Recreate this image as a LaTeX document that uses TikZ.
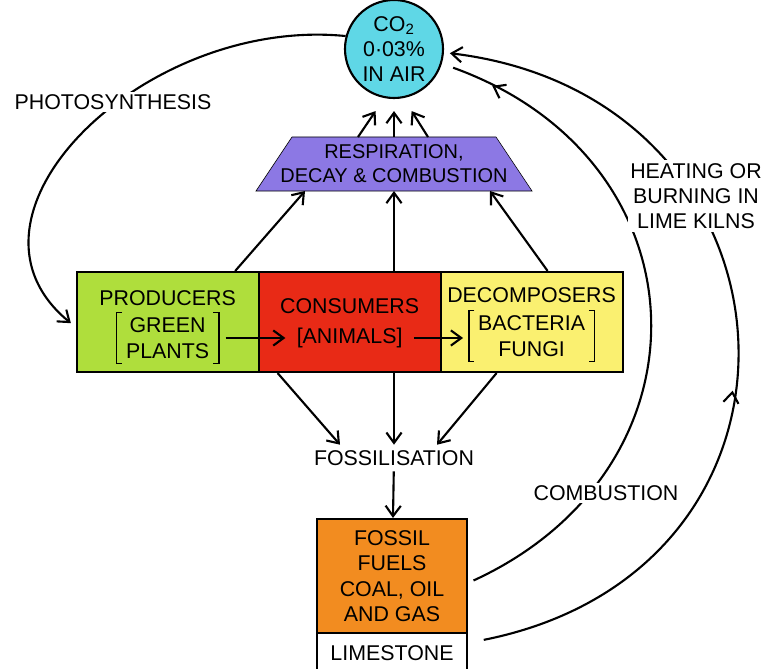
\documentclass[tikz,border=0pt]{standalone}
\usepackage{fontspec}
\setmainfont{Liberation Sans}
\usetikzlibrary{positioning,arrows.meta,decorations.markings,backgrounds}

\definecolor{airblue}{RGB}{95,215,230}
\definecolor{processviolet}{RGB}{140,120,228}
\definecolor{producergreen}{RGB}{175,222,60}
\definecolor{consumerred}{RGB}{232,42,22}
\definecolor{decomposeryellow}{RGB}{250,240,112}
\definecolor{fuelorange}{RGB}{242,140,32}

\begin{document}
\begin{tikzpicture}[
  line width=1.5pt,
  font=\fontsize{15.2}{18}\selectfont,
  arrowed/.style={-{Straight Barb[length=2.6mm,width=3.8mm]}},
  box/.style={draw, rectangle, minimum width=4.55cm, minimum height=2.5cm},
  bracketed/.style={align=center, inner xsep=6pt, inner ysep=3pt},
  flowlabel/.style={fill=white, align=center, inner sep=2pt},
  midtip/.style={postaction={decorate, decoration={markings, mark=at position #1 with {\arrow{Straight Barb[length=2.6mm,width=3.8mm]}}}}}
]

\useasboundingbox (0,0) rectangle (19.225,16.7);

\node[draw, circle, fill=airblue, minimum size=2.45cm, inner sep=0pt, align=center] (co2) at (9.85,15.475) {CO\textsubscript{2}\\0·03\%\\IN AIR};

\node[minimum height=1.35cm, inner ysep=0pt, outer sep=0pt, align=center, font=\fontsize{14.2}{17}\selectfont] (process) at (9.85,12.6) {RESPIRATION,\\DECAY \& COMBUSTION};
\begin{scope}[on background layer]
  \draw[fill=processviolet] ([shift={(-3.45,-0.675)}]process.center) -- ([shift={(-2.55,0.675)}]process.center)
    -- ([shift={(2.55,0.675)}]process.center) -- ([shift={(3.45,-0.675)}]process.center) -- cycle;
\end{scope}

\node[box, fill=producergreen] (producers) at (4.19,8.65) {};
\node[box, fill=consumerred, right=-\pgflinewidth of producers] (consumers) {};
\node[box, fill=decomposeryellow, right=-\pgflinewidth of consumers] (decomposers) {};

\node (producerstitle) at ([yshift=0.6cm]producers.center) {PRODUCERS};
\node[bracketed] (plants) at ([yshift=-0.4cm]producers.center) {GREEN\\PLANTS};
\node (consumerstitle) at ([yshift=0.4cm]consumers.center) {CONSUMERS};
\node (animals) at ([yshift=-0.4cm]consumers.center) {[ANIMALS]};
\node (decomposerstitle) at ([yshift=0.675cm]decomposers.center) {DECOMPOSERS};
\node[bracketed] (bacteria) at ([yshift=-0.35cm]decomposers.center) {BACTERIA\\FUNGI};

\foreach \group in {plants,bacteria} {
  \draw[line width=1.3pt] ([xshift=4pt]\group.north west) -- (\group.north west) -- (\group.south west) -- ++(4pt,0);
  \draw[line width=1.3pt] ([xshift=-4pt]\group.north east) -- (\group.north east) -- (\group.south east) -- ++(-4pt,0);
}

\draw[arrowed, shorten <=5pt, shorten >=4pt] (plants.east) -- (plants.east -| animals.west);
\draw[arrowed, shorten <=4pt, shorten >=4pt] (animals.east) -- (animals.east -| bacteria.west);

\node (fossilisation) at (9.85,5.25) {FOSSILISATION};
\node[draw, fill=fuelorange, minimum width=3.75cm, minimum height=2.85cm, align=center] (fuels) at (9.8,2.3) {FOSSIL\\FUELS\\COAL, OIL\\AND GAS};
\node[draw, fill=white, minimum width=3.75cm, minimum height=1cm, below=-\pgflinewidth of fuels] (limestone) {LIMESTONE};

\draw[arrowed] ([xshift=1.69cm]producers.north) -- ([xshift=-2.225cm]process.south);
\draw[arrowed] (process.south |- consumers.north) -- (process.south);
\draw[arrowed] ([xshift=0.4cm]decomposers.north) -- ([xshift=2.4cm]process.south);

\draw[arrowed] ([xshift=-0.9cm]process.north) -- ([shift={(-0.46,-0.3)}]co2.south);
\draw[arrowed] (process.north) -- ([yshift=-0.3cm]co2.south);
\draw[arrowed] ([xshift=0.85cm]process.north) -- ([shift={(0.44,-0.3)}]co2.south);

\draw[arrowed] ([xshift=-1.8cm]consumers.south) -- ([xshift=-1.35cm]fossilisation.north);
\draw[arrowed] (consumers.south -| fossilisation.north) -- (fossilisation.north);
\draw[arrowed] ([xshift=-0.875cm]decomposers.south) -- ([xshift=1.075cm]fossilisation.north);
\draw[arrowed] (fossilisation) -- (fuels);

\draw[arrowed, shorten >=0.15cm] (co2.165) .. controls (3.6,16.3) and (-1.5,11.3) .. ([yshift=-0.125cm]producers.west);
\draw[midtip=0.92, shorten <=0.15cm, shorten >=0.3cm] ([yshift=-0.175cm]fuels.east) .. controls (17.96,5.0) and (17.72,12.7) .. (co2.-17);
\draw[arrowed, midtip=0.44, shorten <=0.4cm, shorten >=0.15cm] ([yshift=0.25cm]limestone.east) .. controls (21.1,2.5) and (20.3,14.28) .. (co2.-4);

\node[flowlabel] (photosynthesis) at (2.825,14.15) {PHOTOSYNTHESIS};
\node[flowlabel] (combustion) at (15.15,4.375) {COMBUSTION};
\node[flowlabel] (limekilns) at (17.4,11.8) {HEATING OR\\BURNING IN\\LIME KILNS};

\end{tikzpicture}
\end{document}
